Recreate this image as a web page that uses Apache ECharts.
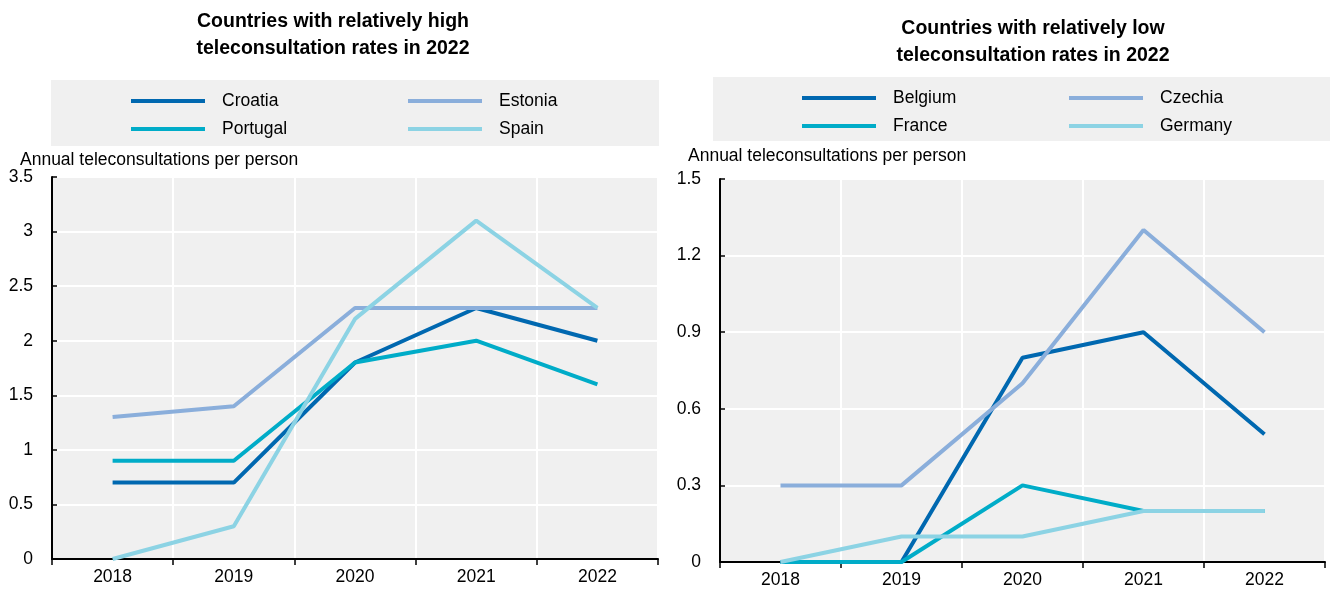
<!DOCTYPE html>
<html>
<head>
<meta charset="utf-8">
<script src="https://cdn.jsdelivr.net/npm/echarts@6/dist/echarts.min.js"></script>
<style>html,body{margin:0;padding:0;background:#fff;}#c{width:1330px;height:589px;}</style>
</head>
<body>
<div id="c"></div>
<script>
const years = ['2018', '2019', '2020', '2021', '2022'];

const croatia  = [0.7, 0.7, 1.8, 2.3, 2.0];
const portugal = [0.9, 0.9, 1.8, 2.0, 1.6];
const estonia  = [1.3, 1.4, 2.3, 2.3, 2.3];
const spain    = [0.0, 0.3, 2.2, 3.1, 2.3];

const belgium  = [0.0, 0.0, 0.8, 0.9, 0.5];
const france   = [0.0, 0.0, 0.3, 0.2, 0.2];
const czechia  = [0.3, 0.3, 0.7, 1.3, 0.9];
const germany  = [0.0, 0.1, 0.1, 0.2, 0.2];

const leftTitle = 'Countries with relatively high\nteleconsultation rates in 2022';
const rightTitle = 'Countries with relatively low\nteleconsultation rates in 2022';
const yName = 'Annual teleconsultations per person';

const C1 = '#0068b0', C2 = '#00acc8', C3 = '#8aaedb', C4 = '#8cd3e4';
const FONT = '"Liberation Sans", Arial, sans-serif';

const chart = echarts.init(document.getElementById('c'), null, {renderer: 'canvas'});

function xAx(gi) {
  return {
    type: 'category', gridIndex: gi, data: years, boundaryGap: true,
    axisLine: {show: true, lineStyle: {color: '#000', width: 2}},
    axisTick: {show: true, length: 6, lineStyle: {color: '#000', width: 1.5}},
    axisLabel: {color: '#000', fontSize: 17.5, fontFamily: FONT, margin: 9},
    splitLine: {show: true, lineStyle: {color: '#fff', width: 2}}
  };
}
function yAx(gi, max, interval) {
  return {
    type: 'value', gridIndex: gi, min: 0, max: max, interval: interval,
    axisLine: {show: true, lineStyle: {color: '#000', width: 2}},
    axisTick: {show: true, inside: true, length: 5, lineStyle: {color: '#000', width: 1.5}},
    axisLabel: {color: '#000', fontSize: 17.5, fontFamily: FONT, margin: 19},
    splitLine: {show: true, lineStyle: {color: '#fff', width: 2}}
  };
}
function ser(name, data, color, idx) {
  return {
    name: name, type: 'line', xAxisIndex: idx, yAxisIndex: idx, data: data,
    symbol: 'none', color: color, lineStyle: {color: color, width: 4},
    animation: false
  };
}
function leg(names, left, top) {
  return {
    data: names, orient: 'vertical', left: left, top: top, padding: 0,
    icon: 'rect', itemWidth: 74, itemHeight: 4, itemGap: 8, z: 10,
    selectedMode: false,
    textStyle: {color: '#000', fontSize: 17.5, fontFamily: FONT, lineHeight: 20, padding: [0, 0, 0, 12]}
  };
}

chart.setOption({
  animation: false,
  backgroundColor: '#fff',
  title: [
    {text: leftTitle, left: 328, top: 3, textAlign: 'center',
     textStyle: {fontSize: 19.5, fontWeight: 'bold', color: '#000', fontFamily: FONT, lineHeight: 27}},
    {text: rightTitle, left: 1028, top: 10, textAlign: 'center',
     textStyle: {fontSize: 19.5, fontWeight: 'bold', color: '#000', fontFamily: FONT, lineHeight: 27}}
  ],
  graphic: [
    {type: 'rect', shape: {x: 51, y: 80, width: 608, height: 66}, style: {fill: '#f0f0f0'}, z: 0},
    {type: 'rect', shape: {x: 713, y: 77, width: 617, height: 64}, style: {fill: '#f0f0f0'}, z: 0},
    {type: 'text', x: 20, y: 160, style: {text: yName, fill: '#000', font: '17.5px ' + FONT, textVerticalAlign: 'middle'}},
    {type: 'text', x: 688, y: 156, style: {text: yName, fill: '#000', font: '17.5px ' + FONT, textVerticalAlign: 'middle'}}
  ],
  legend: [
    leg(['Croatia', 'Portugal'], 131, 91),
    leg(['Estonia', 'Spain'], 408, 91),
    leg(['Belgium', 'France'], 802, 88),
    leg(['Czechia', 'Germany'], 1069, 88)
  ],
  grid: [
    {left: 52, top: 177, width: 606, height: 382, show: true, backgroundColor: '#f0f0f0', borderWidth: 0},
    {left: 720, top: 179, width: 605, height: 383, show: true, backgroundColor: '#f0f0f0', borderWidth: 0}
  ],
  xAxis: [xAx(0), xAx(1)],
  yAxis: [yAx(0, 3.5, 0.5), yAx(1, 1.5, 0.3)],
  series: [
    ser('Croatia', croatia, C1, 0),
    ser('Portugal', portugal, C2, 0),
    ser('Estonia', estonia, C3, 0),
    ser('Spain', spain, C4, 0),
    ser('Belgium', belgium, C1, 1),
    ser('France', france, C2, 1),
    ser('Czechia', czechia, C3, 1),
    ser('Germany', germany, C4, 1)
  ]
});
</script>
</body>
</html>
